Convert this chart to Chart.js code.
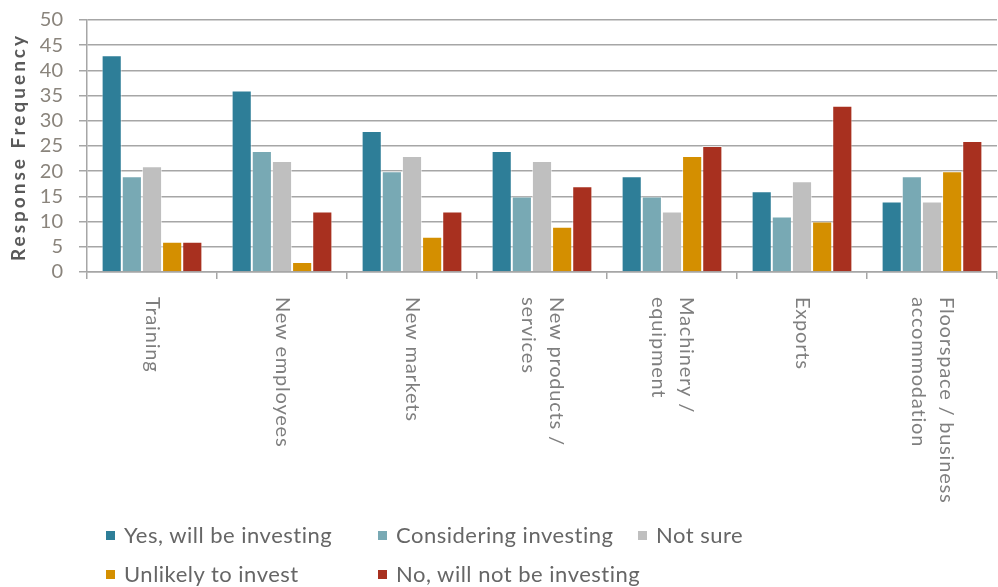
<!DOCTYPE html>
<html>
<head>
<meta charset="utf-8">
<title>Investment intentions</title>
<script src="https://cdn.jsdelivr.net/npm/chart.js@4.4.1/dist/chart.umd.min.js"></script>
<style>
  body { margin: 0; background: #fff; }
  #wrap { position: relative; width: 998px; height: 587px; }
  #legend .item {
    position: absolute; display: flex; align-items: center;
    font: 22px Lato, sans-serif; letter-spacing: 0.5px; color: #666; white-space: nowrap;
    height: 26px; line-height: 26px;
  }
  #legend .swatch { width: 9px; height: 9px; margin-right: 9px; flex: none; }
</style>
</head>
<body>
<div id="wrap">
  <canvas id="chart" width="998" height="587"></canvas>
  <div id="legend"></div>
</div>
<script>
// Categories (multi-line labels are arrays)
const categories = [
    ['Training'],
    ['New employees'],
    ['New markets'],
    ['New products /', 'services'],
    ['Machinery /', 'equipment'],
    ['Exports'],
    ['Floorspace / business', 'accommodation']
];

const seriesNames = [
    'Yes, will be investing',
    'Considering investing',
    'Not sure',
    'Unlikely to invest',
    'No, will not be investing'
];
const seriesColors = ['#2e7e98', '#78a9b4', '#bfbfbf', '#d48f00', '#a8301f'];

const yesInvesting     = [43, 36, 28, 24, 19, 16, 14];
const considering      = [19, 24, 20, 15, 15, 11, 19];
const notSure          = [21, 22, 23, 22, 12, 18, 14];
const unlikely         = [6, 2, 7, 9, 23, 10, 20];
const notInvesting     = [6, 12, 12, 17, 25, 33, 26];

const yTicks = [0, 5, 10, 15, 20, 25, 30, 35, 40, 45, 50];
const yTitle = 'Response Frequency';

const seriesValues = [yesInvesting, considering, notSure, unlikely, notInvesting];

const gridColor = '#a6a6a6';

// Category labels rotated clockwise (reading top to bottom) and the spaced-out axis title
const axisText = {
    id: 'axisText',
    afterDraw(chart) {
        const ctx = chart.ctx;
        const xs = chart.scales.x;
        const area = chart.chartArea;
        const top = area.bottom + 25;
        const lineGap = 28;
        ctx.save();
        ctx.font = '20px Lato, sans-serif';
        ctx.fillStyle = '#7f7f7f';
        ctx.textAlign = 'left';
        ctx.textBaseline = 'middle';
        ctx.letterSpacing = '0.8px';
        categories.forEach((lines, i) => {
            const x = xs.getPixelForValue(i);
            ctx.save();
            ctx.translate(x, top);
            ctx.rotate(Math.PI / 2);
            lines.forEach((line, j) => {
                const off = (j - (lines.length - 1) / 2) * lineGap;
                ctx.fillText(line, 0, off);
            });
            ctx.restore();
        });

        // y axis title
        ctx.save();
        ctx.font = 'bold 19px Lato, sans-serif';
        ctx.fillStyle = '#595959';
        ctx.letterSpacing = '3px';
        ctx.textAlign = 'center';
        ctx.translate(19, (area.top + area.bottom) / 2 + 1);
        ctx.rotate(-Math.PI / 2);
        ctx.fillText(yTitle, 0, 0);
        ctx.restore();
        ctx.restore();
    }
};

new Chart(document.getElementById('chart'), {
    type: 'bar',
    data: {
        labels: categories.map(c => c.join(' ')),
        datasets: seriesNames.map((name, i) => ({
            label: name,
            data: seriesValues[i],
            backgroundColor: seriesColors[i],
            borderColor: 'rgba(255,255,255,0.55)',
            borderWidth: 1,
            categoryPercentage: 0.775,
            barPercentage: 1
        }))
    },
    options: {
        responsive: false,
        animation: false,
        layout: { padding: { top: 20, right: 1, left: 0, bottom: 0 } },
        plugins: {
            legend: { display: false },
            tooltip: { enabled: false }
        },
        scales: {
            x: {
                ticks: { display: false },
                grid: {
                    offset: true,
                    drawOnChartArea: false,
                    drawTicks: true,
                    tickLength: 7,
                    color: gridColor,
                    lineWidth: 1.5
                },
                border: { color: gridColor, width: 1.5 },
                afterFit(scale) { scale.height = 315; }
            },
            y: {
                min: 0,
                max: 50,
                afterBuildTicks(scale) {
                    scale.ticks = yTicks.map(v => ({ value: v }));
                },
                ticks: {
                    autoSkip: false,
                    font: { family: 'Lato', size: 20 },
                    color: '#8a847c',
                    padding: 16
                },
                grid: {
                    color: gridColor,
                    lineWidth: 1.5,
                    tickLength: 8
                },
                border: { display: true, color: gridColor, width: 1.5 },
                afterFit(scale) {
                    scale.width = 87;
                    // keep the plot top fixed; the top label may overhang
                    scale.paddingTop = 0;
                    scale.paddingBottom = 0;
                }
            }
        }
    },
    plugins: [axisText]
});

// Legend laid out in columns
const legendCols = [106, 378, 638];
const legendRows = [535, 574];
const legend = document.getElementById('legend');
seriesNames.forEach((name, i) => {
    const item = document.createElement('div');
    item.className = 'item';
    item.style.left = legendCols[i % 3] + 'px';
    item.style.top = (legendRows[Math.floor(i / 3)] - 13) + 'px';
    const sw = document.createElement('span');
    sw.className = 'swatch';
    sw.style.background = seriesColors[i];
    item.appendChild(sw);
    item.appendChild(document.createTextNode(name));
    legend.appendChild(item);
});
</script>
</body>
</html>
